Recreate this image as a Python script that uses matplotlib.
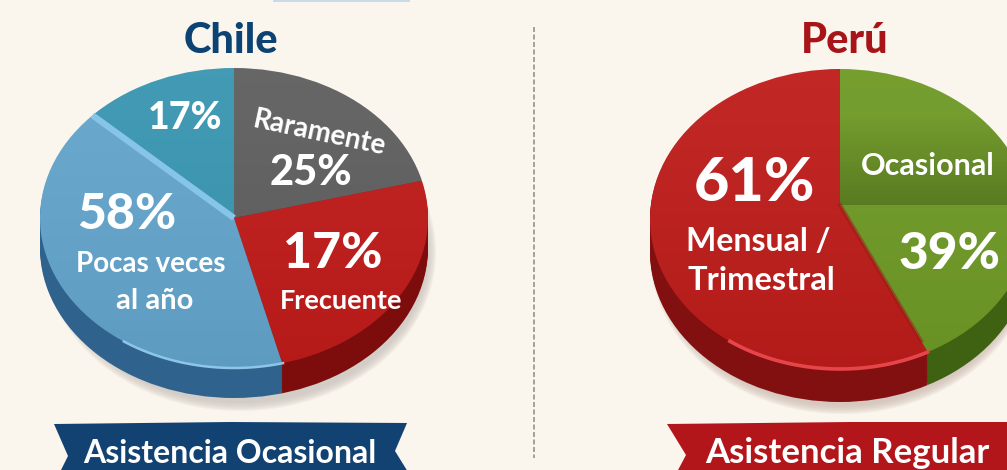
import numpy as np
import matplotlib
matplotlib.use('Agg')
import matplotlib.pyplot as plt
from matplotlib.patches import Ellipse, Polygon

W, H = 1007, 470
BG = '#faf5ed'

# slice sizes as drawn in the picture (the printed labels do not add up to 100)
chile_shares = [21, 25, 41, 13]
chile_side = ['#4a4a4a', '#7d0d0d', '#2f638e', '#2f638e']
chile_top = ['#5f5f5f', '#c01c1a', '#64a5cd', '#3996b1']

peru_shares = [43, 57]
peru_side = ['#3f6212', '#821010']
peru_top = ['#6f9a26', '#be1d1b']

fig = plt.figure(figsize=(W/100, H/100), dpi=100, facecolor=BG)
plt.rcParams['font.family'] = ['Lato', 'DejaVu Sans']


def vertical_fade(c1, a1, c2, a2):
    # little rgba column going from c1 at the top to c2 at the bottom
    col = np.zeros((64, 1, 4))
    f = np.linspace(0, 1, 64)
    col[:, 0, :3] = np.outer(1 - f, c1) + np.outer(f, c2)
    col[:, 0, 3] = a1*(1 - f) + a2*f
    return col


def draw_pie(shares, top, side, cx, cy, rx, ry, depth, shadow, hub=0.0):
    ax = fig.add_axes([0, 0, 1, 1])
    ax.patch.set_alpha(0)
    sx, sy, srx, sry, scol = shadow
    # soft shadow under the disc
    for i in range(8):
        ax.add_patch(Ellipse(((sx - cx)/rx, (cy - sy)/ry), 2*(srx - i*1.2)/rx, 2*(sry - i*1.2)/ry,
                             facecolor=scol, edgecolor='none', alpha=0.16, zorder=0))
    # rim is the same pie stacked downwards, each layer cut to its own disc
    for d in list(range(depth, 0, -2)) + [0]:
        colors = side if d else top
        wedges, _ = ax.pie(shares, colors=colors, startangle=90, counterclock=False, radius=1.4,
                           center=(0, hub - d/ry),
                           wedgeprops={'zorder': 2 if d == 0 else 1, 'linewidth': 0})
        disc = Ellipse((0, -d/ry), 2, 2, transform=ax.transData)
        for wedge in wedges:
            wedge.set_clip_on(True)
            wedge.set_clip_path(disc)
    ax.set_aspect('auto')
    ax.set_xlim(-cx/rx, (W - cx)/rx)
    ax.set_ylim((cy - H)/ry, cy/ry)
    ax.set_frame_on(False)
    ax.set_xticks([])
    ax.set_yticks([])
    im = ax.imshow(vertical_fade((1, 1, 1), 0.05, (0, 0, 0), 0.06), aspect='auto',
                   extent=(-1, 1, -1, 1), zorder=3)
    im.set_clip_path(Ellipse((0, 0), 2, 2, transform=ax.transData))
    ax.set_xlim(-cx/rx, (W - cx)/rx)
    ax.set_ylim((cy - H)/ry, cy/ry)
    return ax, np.cumsum(shares)


def rim_light(ax, t1, t2, color, lw):
    t = np.radians(np.linspace(t1, t2, 60))
    ax.plot(np.cos(t), np.sin(t), color=color, lw=lw, zorder=5, solid_capstyle='butt')


ax1, cum1 = draw_pie(chile_shares, chile_top, chile_side, 234, 218, 194, 150, 30,
                     (240, 252, 196, 159, '#c9c3bd'))
rim_light(ax1, -75, -125, '#8dc6e8', 1.8)
# light strip between the two blue slices
edge = np.radians(90 - 3.6*cum1[2])
ax1.plot([0, np.cos(edge)], [0, np.sin(edge)], color='#86c5e8', lw=4.5, zorder=5, solid_capstyle='butt')

ax2, cum2 = draw_pie(peru_shares, peru_top, peru_side, 840, 219, 190, 150, 33,
                     (842, 254, 192, 160, '#cdbdb4'), hub=0.093)
rim_light(ax2, -62, -126, '#e8454a', 2.6)
# the green slice goes darker towards the fold, the red/green edge has a dark seam
edge = np.radians(90 - 3.6*cum2[0])
ax2.plot([0, 1.0*np.cos(edge)], [0.093, 0.093 + 1.0*np.sin(edge)], color='#a31518', lw=3, alpha=0.5, zorder=5)
fold = ax2.imshow(vertical_fade((0, 0, 0), 0.0, (0, 0, 0), 0.2), aspect='auto',
                  extent=(0, 1, 0.093, 0.7), zorder=4)
fold.set_clip_path(Ellipse((0, 0), 2, 2, transform=ax2.transData))
ax2.set_xlim(-840/190, (W - 840)/190)
ax2.set_ylim((219 - H)/150, 219/150)

# overlay in pixel coordinates for text, banners and the divider
ov = fig.add_axes([0, 0, 1, 1])
ov.patch.set_alpha(0)
ov.set_xlim(0, W)
ov.set_ylim(H, 0)
ov.axis('off')

ov.plot([534, 534], [27, 458], color='#96928c', lw=1.2, ls=(0, (3, 1.5)))
ov.add_patch(Polygon([(273, 0), (410, 0), (410, 1.5), (273, 1.5)], facecolor='#c9dbe8', edgecolor='none'))

ov.add_patch(Polygon([(54, 424), (230, 422), (407, 423), (395, 451), (408, 472), (60, 472), (68, 456)],
                     facecolor='#124272', edgecolor='none'))
ov.add_patch(Polygon([(667, 424), (850, 422), (1010, 422), (1010, 472), (677, 472), (686, 455)],
                     facecolor='#b3161a', edgecolor='none'))


def label(x, y, s, size, rot=0, color='white', weight='bold'):
    # the font sits a little high on va=center, nudge it down with its size
    ov.text(x, y + size*0.09, s, fontsize=size, color=color, ha='center', va='center', weight=weight,
            rotation=rot, rotation_mode='anchor')


label(231, 38, 'Chile', 30, color='#0d4373', weight='black')
label(845, 38, 'Perú', 30, color='#a81519', weight='black')

label(185, 116, '17%', 27, weight='black')
label(319, 131, 'Raramente', 20, rot=-12)
label(311, 170, '25%', 30, weight='black')
label(127, 211, '58%', 36, weight='black')
label(151, 262, 'Pocas veces', 20)
label(155, 299, 'al año', 21)
label(333, 250, '17%', 36, weight='black')
label(341, 299, 'Frecuente', 19.5)

label(754, 179, '61%', 44, weight='black')
label(758, 239, 'Mensual /', 23)
label(761, 278, 'Trimestral', 23.5)
label(928, 164, 'Ocasional', 22)
label(950, 251, '39%', 37, weight='black')

label(230, 451, 'Asistencia Ocasional', 23)
label(847, 451, 'Asistencia Regular', 25)

fig.savefig('out.png', dpi=100, facecolor=BG)
